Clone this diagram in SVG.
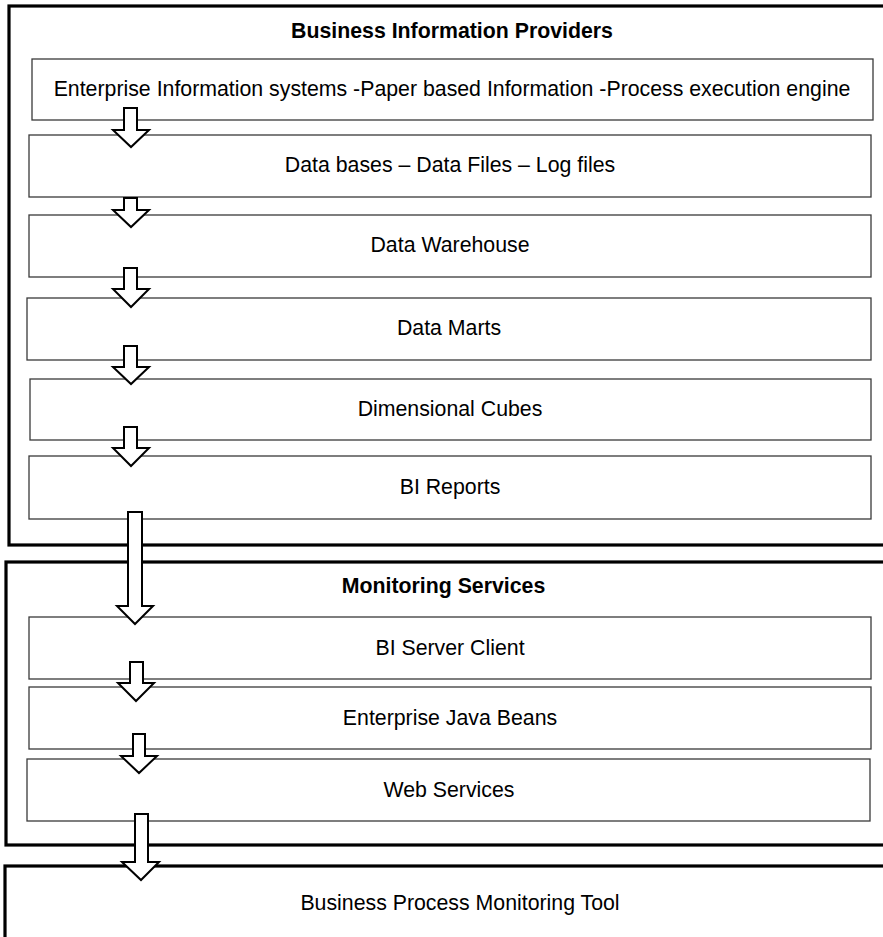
<svg xmlns="http://www.w3.org/2000/svg" width="883" height="937" viewBox="0 0 883 937">
<style>
.cont{fill:#fff;stroke:#000;stroke-width:3.2}
.box{fill:#fff;stroke:#3a3a3a;stroke-width:1.3}
.arrow{fill:#fff;stroke:#000;stroke-width:2;stroke-linejoin:miter}
.t{font-family:"Liberation Sans",Arial,sans-serif;font-size:21.3px;fill:#000;text-anchor:middle}
.h{font-family:"Liberation Sans",Arial,sans-serif;font-size:21.3px;font-weight:bold;fill:#000;text-anchor:middle}
</style>
<rect width="883" height="937" fill="#fff"/>
<g id="container-providers">
<rect class="cont" x="9" y="6" width="900" height="539"/>
<text class="h" x="452" y="38">Business Information Providers</text>
</g>
<g id="container-monitoring">
<rect class="cont" x="6" y="562" width="900" height="283"/>
<text class="h" x="443.5" y="593">Monitoring Services</text>
</g>
<g id="container-tool">
<rect class="cont" x="5" y="866" width="900" height="100"/>
<text class="t" x="460" y="910">Business Process Monitoring Tool</text>
</g>
<g id="n1"><rect class="box" x="32" y="59" width="841" height="61"/><text class="t" x="452" y="96">Enterprise Information systems -Paper based Information -Process execution engine</text></g>
<g id="n2"><rect class="box" x="29" y="135" width="842" height="62"/><text class="t" x="450" y="172">Data bases – Data Files – Log files</text></g>
<g id="n3"><rect class="box" x="29" y="215" width="842" height="62"/><text class="t" x="450" y="252">Data Warehouse</text></g>
<g id="n4"><rect class="box" x="27" y="298" width="844" height="62"/><text class="t" x="449" y="335">Data Marts</text></g>
<g id="n5"><rect class="box" x="30" y="379" width="841" height="61"/><text class="t" x="450" y="416">Dimensional Cubes</text></g>
<g id="n6"><rect class="box" x="29" y="456" width="842" height="63"/><text class="t" x="450" y="494">BI Reports</text></g>
<g id="n7"><rect class="box" x="29" y="617" width="842" height="62"/><text class="t" x="450" y="655">BI Server Client</text></g>
<g id="n8"><rect class="box" x="29" y="687" width="842" height="62"/><text class="t" x="450" y="725">Enterprise Java Beans</text></g>
<g id="n9"><rect class="box" x="27" y="759" width="843" height="62"/><text class="t" x="449" y="797">Web Services</text></g>
<g id="connectors">
<path class="arrow" d="M124,108 H137 V130 H149 L131,147 L113,130 H124 Z"/>
<path class="arrow" d="M124,198 H137 V210 H149 L131,227 L113,210 H124 Z"/>
<path class="arrow" d="M124,268 H137 V289 H149 L131,307 L113,289 H124 Z"/>
<path class="arrow" d="M124,346 H137 V367 H149 L131,384 L113,367 H124 Z"/>
<path class="arrow" d="M124,427 H137 V448 H149 L131,466 L113,448 H124 Z"/>
<path class="arrow" d="M128,512 H142 V606 H153 L135,624 L117,606 H128 Z"/>
<path class="arrow" d="M130,662 H143 V683 H154 L136,701 L118,683 H130 Z"/>
<path class="arrow" d="M133,734 H145 V756 H157 L139,773 L121,756 H133 Z"/>
<path class="arrow" d="M135,814 H148 V862 H159 L141,880 L122,862 H135 Z"/>
</g>
</svg>
